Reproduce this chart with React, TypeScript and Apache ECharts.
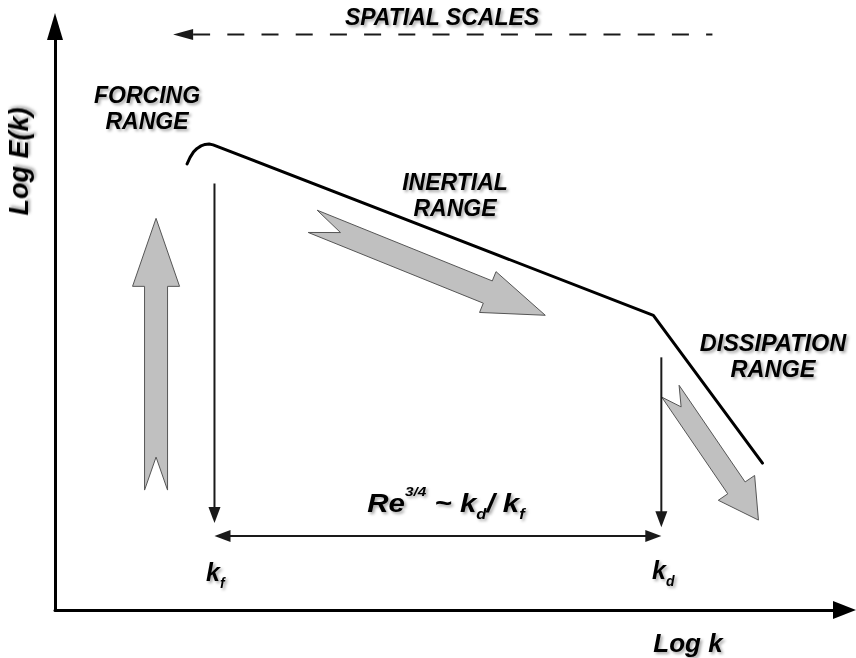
import React, { useEffect, useRef } from "react";
import * as echarts from "echarts";

const FONT = '"Liberation Sans", Arial, Helvetica, sans-serif';

// Both axes use an arbitrary logarithmic 0–10 scale
const logKRange = [0, 10];
const logERange = [0, 10];

// E(k): rounded peak in the forcing range, inertial slope, steeper dissipation range
const spectrumLogK = [1.673, 1.711, 1.755, 1.8, 1.85, 1.901, 1.952, 2.003, 7.579, 8.961];
const spectrumLogE = [7.646, 7.757, 7.851, 7.911, 7.954, 7.979, 7.985, 7.971, 5.051, 2.517];

// forcing and dissipation wavenumbers on the Log k axis
const logKf = 2.02;
const logKd = 7.68;

// thin arrows: [fromLogK, fromLogE, toLogK, toLogE, doubleHeaded]
const markerArrows = [
  [logKf, 7.31, logKf, 1.49, 0],
  [logKd, 4.33, logKd, 1.42, 0],
  [logKf, 1.267, logKd, 1.267, 1],
];

// dashed arrow pointing towards larger spatial scales: [fromLogK, fromLogE, toLogK, toLogE]
const scaleArrow = [[8.327, 9.863, 1.496, 9.863]];

// energy transfer arrows: [tailLogK, tailLogE, tipLogK, tipLogE]
const transferArrows = [
  [1.28, 2.055, 1.28, 6.712],
  [3.264, 6.661, 6.21, 5.051],
  [7.795, 3.75, 8.91, 1.541],
];
// outline of each transfer arrow, in pixels
const transferArrowShapes = [
  { shaft: 11.5, head: 23.5, headLen: 68, notch: 33 },
  { shaft: 12, head: 22, headLen: 62, notch: 30 },
  { shaft: 10.5, head: 22, headLen: 39, notch: 19 },
];

const INK = "#1a1a1a";
const shadow = {
  textShadowColor: "rgba(0,0,0,0.35)",
  textShadowBlur: 3,
  textShadowOffsetX: 2,
  textShadowOffsetY: 2,
};
const boldItalic = {
  fontFamily: FONT,
  fontWeight: "bold",
  fontStyle: "italic",
  fill: "#000",
};

function label(text: string, x: number, y: number, size: number, lineHeight?: number, rotation = 0) {
  return {
    type: "text",
    x,
    y,
    rotation,
    silent: true,
    style: {
      text,
      ...boldItalic,
      fontSize: size,
      lineHeight: lineHeight || size * 1.2,
      align: "center",
      verticalAlign: "middle",
      ...shadow,
    },
  };
}

// rich-text styles for main glyphs, superscripts and subscripts
const richStyles = {
  m: { ...boldItalic, fontSize: 25, lineHeight: 36, verticalAlign: "middle", ...shadow },
  sup: { ...boldItalic, fontSize: 13, lineHeight: 33, verticalAlign: "top", ...shadow },
  sub: { ...boldItalic, fontSize: 14, lineHeight: 4, verticalAlign: "bottom", ...shadow },
};

function richLabel(text: string, x: number, y: number, align: string, scaleX = 1) {
  return {
    type: "text",
    x,
    y,
    scaleX,
    silent: true,
    style: { text, align, verticalAlign: "middle", rich: richStyles, ...boldItalic },
  };
}

function arrowHead(tip: number[], ux: number, uy: number, len: number, hw: number) {
  const bx = tip[0] - ux * len;
  const by = tip[1] - uy * len;
  return [
    [tip[0], tip[1]],
    [bx - uy * hw, by + ux * hw],
    [bx + uy * hw, by - ux * hw],
  ];
}

export default function App() {
  const ref = useRef<HTMLDivElement>(null);

  useEffect(() => {
    if (!ref.current) return;
    const chart = echarts.init(ref.current, undefined, { renderer: "svg" });

    const axisBase = {
      type: "value",
      axisTick: { show: false },
      axisLabel: { show: false },
      splitLine: { show: false },
    };

    chart.setOption({
      animation: false,
      backgroundColor: "#fff",
      grid: { left: 55, right: 11.5, top: 26.5, bottom: 48, outerBoundsMode: "none" },
      xAxis: {
        ...axisBase,
        min: logKRange[0],
        max: logKRange[1],
        axisLine: {
          show: true,
          onZero: false,
          symbol: ["none", "triangle"],
          symbolSize: [18, 23],
          lineStyle: { color: "#000", width: 3 },
        },
      },
      yAxis: {
        ...axisBase,
        min: logERange[0],
        max: logERange[1],
        axisLine: {
          show: true,
          onZero: false,
          symbol: ["none", "triangle"],
          symbolSize: [16, 27],
          lineStyle: { color: "#000", width: 3 },
        },
      },
      series: [
        {
          type: "custom",
          name: "transfer",
          coordinateSystem: "cartesian2d",
          clip: false,
          silent: true,
          encode: { x: [0, 2], y: [1, 3] },
          data: transferArrows,
          renderItem: (params: any, api: any) => {
            const p0 = api.coord([api.value(0), api.value(1)]);
            const p1 = api.coord([api.value(2), api.value(3)]);
            const s = transferArrowShapes[params.dataIndex];
            const dx = p1[0] - p0[0];
            const dy = p1[1] - p0[1];
            const len = Math.hypot(dx, dy);
            const ux = dx / len;
            const uy = dy / len;
            const nx = -uy;
            const ny = ux;
            const at = (along: number, across: number) => [
              p0[0] + ux * along + nx * across,
              p0[1] + uy * along + ny * across,
            ];
            const b = len - s.headLen;
            const points = [
              at(0, -s.shaft),
              at(b, -s.shaft),
              at(b, -s.head),
              at(len, 0),
              at(b, s.head),
              at(b, s.shaft),
              at(0, s.shaft),
              at(s.notch, 0),
            ];
            return {
              type: "polygon",
              shape: { points },
              style: { fill: "#c0c0c0", stroke: "#555", lineWidth: 1 },
            };
          },
        },
        {
          type: "line",
          name: "E(k)",
          data: spectrumLogK.map((k, i) => [k, spectrumLogE[i]]),
          showSymbol: false,
          symbol: "none",
          silent: true,
          lineStyle: { color: "#000", width: 3, join: "round", cap: "round" },
        },
        {
          type: "custom",
          name: "markers",
          coordinateSystem: "cartesian2d",
          clip: false,
          silent: true,
          encode: { x: [0, 2], y: [1, 3] },
          data: markerArrows,
          renderItem: (params: any, api: any) => {
            const a = api.coord([api.value(0), api.value(1)]);
            const b = api.coord([api.value(2), api.value(3)]);
            const both = api.value(4) === 1;
            const dx = b[0] - a[0];
            const dy = b[1] - a[1];
            const len = Math.hypot(dx, dy);
            const ux = dx / len;
            const uy = dy / len;
            const HL = 16;
            const HW = 6;
            const start = both ? [a[0] + ux * (HL - 2), a[1] + uy * (HL - 2)] : a;
            const end = [b[0] - ux * (HL - 2), b[1] - uy * (HL - 2)];
            const children: any[] = [
              {
                type: "line",
                shape: { x1: start[0], y1: start[1], x2: end[0], y2: end[1] },
                style: { stroke: INK, lineWidth: 2 },
              },
              { type: "polygon", shape: { points: arrowHead(b, ux, uy, HL, HW) }, style: { fill: INK } },
            ];
            if (both) {
              children.push({
                type: "polygon",
                shape: { points: arrowHead(a, -ux, -uy, HL, HW) },
                style: { fill: INK },
              });
            }
            return { type: "group", children };
          },
        },
        {
          type: "custom",
          name: "spatial scales",
          coordinateSystem: "cartesian2d",
          clip: false,
          silent: true,
          encode: { x: [0, 2], y: [1, 3] },
          data: scaleArrow,
          renderItem: (params: any, api: any) => {
            const a = api.coord([api.value(0), api.value(1)]);
            const b = api.coord([api.value(2), api.value(3)]);
            const dx = b[0] - a[0];
            const dy = b[1] - a[1];
            const len = Math.hypot(dx, dy);
            const ux = dx / len;
            const uy = dy / len;
            const HL = 20;
            const HW = 5.5;
            const base = [b[0] - ux * HL, b[1] - uy * HL];
            return {
              type: "group",
              children: [
                {
                  type: "line",
                  shape: { x1: base[0], y1: base[1], x2: a[0], y2: a[1] },
                  style: { stroke: INK, lineWidth: 2, lineDash: [17, 17.2] },
                },
                { type: "polygon", shape: { points: arrowHead(b, ux, uy, HL, HW) }, style: { fill: INK } },
              ],
            };
          },
        },
      ],
      graphic: [
        label("SPATIAL SCALES", 442, 17, 23),
        label("FORCING\nRANGE", 147, 108, 23, 26),
        label("INERTIAL\nRANGE", 455, 194.6, 23, 26),
        label("DISSIPATION\nRANGE", 773, 356, 23.5, 26.5),
        label("Log k", 688, 642.5, 26),
        label("Log E(k)", 19, 161.5, 27, 30, Math.PI / 2),
        richLabel("{m|Re}{sup|3/4}{m| ~ k}{sub|d}{m|/ k}{sub|f}", 446, 503, "center", 1.18),
        richLabel("{m|k}{sub|f}", 206, 571.5, "left"),
        richLabel("{m|k}{sub|d}", 652, 570, "left"),
      ],
    });

    return () => chart.dispose();
  }, []);

  return (
    <div
      ref={ref}
      style={{ position: "absolute", left: 0, top: 0, width: 856, height: 658 }}
    />
  );
}
